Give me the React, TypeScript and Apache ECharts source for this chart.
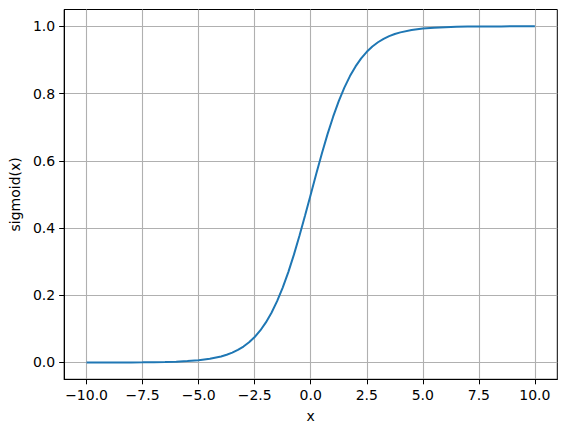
import React, { useEffect, useRef } from "react";
import * as echarts from "echarts";

const xValues = [
  -10, -9.5, -9, -8.5, -8, -7.5, -7, -6.5, -6, -5.5, -5, -4.5, -4, -3.75, -3.5, -3.25, -3, -2.75, -2.5, -2.25,
  -2, -1.75, -1.5, -1.25, -1, -0.75, -0.5, -0.25, 0, 0.25, 0.5, 0.75, 1, 1.25, 1.5, 1.75, 2, 2.25, 2.5, 2.75,
  3, 3.25, 3.5, 3.75, 4, 4.5, 5, 5.5, 6, 6.5, 7, 7.5, 8, 8.5, 9, 9.5, 10,
];
const yValues = [
  0.00005, 0.00007, 0.00012, 0.0002, 0.00034, 0.00055, 0.0009, 0.0015, 0.0025, 0.0041, 0.0067, 0.011, 0.018,
  0.023, 0.0293, 0.0374, 0.0474, 0.0601, 0.0759, 0.0953, 0.1192, 0.148, 0.1824, 0.2227, 0.2689, 0.3208, 0.3775,
  0.4378, 0.5, 0.5622, 0.6225, 0.6792, 0.7311, 0.7773, 0.8176, 0.852, 0.8808, 0.9047, 0.9241, 0.9399, 0.9526,
  0.9626, 0.9707, 0.977, 0.982, 0.989, 0.9933, 0.9959, 0.9975, 0.9985, 0.9991, 0.99945, 0.99966, 0.9998,
  0.99988, 0.99993, 0.99995,
];
const xTicks = [-10, -7.5, -5, -2.5, 0, 2.5, 5, 7.5, 10];
const yTicks = [0, 0.2, 0.4, 0.6, 0.8, 1.0];

const fmt = (v: number) => (v < 0 ? "\u2212" : "") + Math.abs(v).toFixed(1);

const FONT = "DejaVu Sans";

export default function App() {
  const ref = useRef<HTMLDivElement>(null);
  useEffect(() => {
    if (!ref.current) return;
    const chart = echarts.init(ref.current, null, { renderer: "svg" });
    const axisCommon = {
      axisLine: { show: true, onZero: false, lineStyle: { color: "#000", width: 1 } },
      axisTick: { show: true, length: 5, lineStyle: { color: "#000", width: 1 } },
      splitLine: { show: true, lineStyle: { color: "#b0b0b0", width: 1.1 } },
      nameTextStyle: { fontFamily: FONT, fontSize: 14, color: "#000" },
    };
    chart.setOption({
      animation: false,
      backgroundColor: "#fff",
      grid: { left: 61.5, right: 9.7, top: 9.5, bottom: 52.7, containLabel: false, show: true, borderColor: "#000", borderWidth: 1 },
      xAxis: {
        type: "value",
        min: -11,
        max: 11,
        name: "x",
        nameLocation: "middle",
        nameGap: 30,
        ...axisCommon,
        axisTick: { ...axisCommon.axisTick, customValues: xTicks },
        axisLabel: { customValues: xTicks, formatter: fmt, fontFamily: FONT, fontSize: 14, color: "#000", margin: 9 },
      },
      yAxis: {
        type: "value",
        min: -0.05,
        max: 1.05,
        name: "sigmoid(x)",
        nameLocation: "middle",
        nameGap: 38,
        ...axisCommon,
        axisTick: { ...axisCommon.axisTick, customValues: yTicks },
        axisLabel: { customValues: yTicks, formatter: fmt, fontFamily: FONT, fontSize: 14, color: "#000", margin: 9 },
      },
      series: [
        {
          type: "line",
          data: xValues.map((x, i) => [x, yValues[i]]),
          showSymbol: false,
          smooth: false,
          lineStyle: { color: "#1f77b4", width: 2 },
        },
      ],
    });
    return () => chart.dispose();
  }, []);
  return <div ref={ref} style={{ position: "fixed", left: 0, top: 0, width: 567, height: 432 }} />;
}
